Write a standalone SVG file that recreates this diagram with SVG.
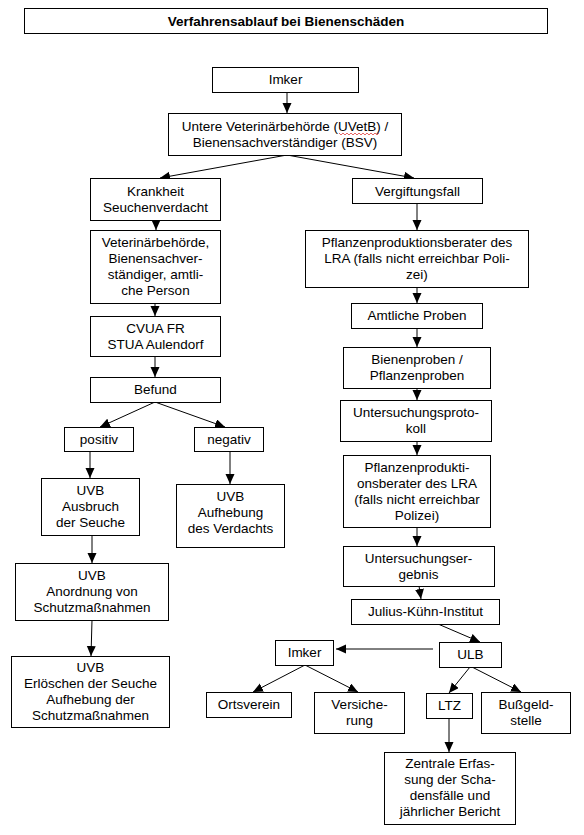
<svg xmlns="http://www.w3.org/2000/svg" width="584" height="835" viewBox="0 0 584 835">
<defs>
<marker id="ah" markerUnits="userSpaceOnUse" markerWidth="10" markerHeight="10" refX="10" refY="4.5" orient="auto">
<path d="M0,0 L10,4.5 L0,9 z" fill="#000"/>
</marker>
<style>
rect{fill:#fff;stroke:#000;stroke-width:1}
text{font-family:"Liberation Sans",Arial,sans-serif;font-size:13.5px;fill:#000;text-anchor:middle}
.t{font-weight:bold}
#connectors line{stroke:#000;stroke-width:1;marker-end:url(#ah)}
</style>
</defs>
<rect width="584" height="835" style="fill:#fff;stroke:none"/>

<g id="title"><rect x="24.5" y="8.5" width="523" height="25"/><text class="t" x="286" y="26">Verfahrensablauf bei Bienenschäden</text></g>

<g id="connectors">
<line x1="287" y1="92" x2="287" y2="113"/>
<line x1="287" y1="155" x2="160" y2="178"/>
<line x1="287" y1="155" x2="414" y2="178"/>
<line x1="156" y1="220" x2="156" y2="230"/>
<line x1="155" y1="303" x2="155" y2="316"/>
<line x1="155" y1="356" x2="155" y2="377"/>
<line x1="155" y1="402" x2="100" y2="427"/>
<line x1="155" y1="402" x2="225" y2="427"/>
<line x1="90" y1="452" x2="90" y2="478"/>
<line x1="230" y1="452" x2="230" y2="484"/>
<line x1="92" y1="535" x2="92" y2="563"/>
<line x1="92" y1="620" x2="91" y2="656"/>
<line x1="417" y1="203" x2="417" y2="230"/>
<line x1="417" y1="287" x2="417" y2="303"/>
<line x1="417" y1="328" x2="417" y2="347"/>
<line x1="417" y1="388" x2="417" y2="400"/>
<line x1="417" y1="441" x2="417" y2="455"/>
<line x1="417" y1="527" x2="417" y2="546"/>
<line x1="419" y1="586" x2="421" y2="599"/>
<line x1="438" y1="624" x2="480" y2="642"/>
<line x1="433" y1="649" x2="336" y2="649"/>
<line x1="305" y1="665" x2="253" y2="692"/>
<line x1="305" y1="665" x2="358" y2="692"/>
<line x1="470" y1="667" x2="449" y2="693"/>
<line x1="472" y1="667" x2="521" y2="692"/>
<line x1="449" y1="718" x2="449" y2="752"/>
</g>

<g id="imker"><rect x="212.5" y="67.5" width="146" height="25"/><text x="285.5" y="84">Imker</text></g>
<g id="uvetb"><rect x="168.5" y="113.5" width="233" height="42"/><text x="285" y="131">Untere Veterinärbehörde (UVetB) /</text><text x="285" y="147">Bienensachverständiger (BSV)</text>
<polyline points="339,133 341,135 343,133 345,135 347,133 349,135 351,133 353,135 355,133 357,135 359,133 361,135 363,133 365,135 367,133 369,135 371,133 373,135 375,133 377,135 379,133" fill="none" stroke="#e04040" stroke-width="0.8"/></g>
<g id="krankheit"><rect x="90.5" y="178.5" width="130" height="42"/><text x="155.5" y="195.5">Krankheit</text><text x="155.5" y="211.5">Seuchenverdacht</text></g>
<g id="vergiftungsfall"><rect x="352.5" y="178.5" width="130" height="25"/><text x="417.5" y="195.5">Vergiftungsfall</text></g>

<g id="veterinaer"><rect x="90.5" y="230.5" width="130" height="73"/><text x="155.5" y="247">Veterinärbehörde,</text><text x="155.5" y="263">Bienensachver-</text><text x="155.5" y="279">ständiger, amtli-</text><text x="155.5" y="295">che Person</text></g>
<g id="cvua"><rect x="90.5" y="316.5" width="130" height="40"/><text x="155.5" y="332.5">CVUA FR</text><text x="155.5" y="348.5">STUA Aulendorf</text></g>
<g id="befund"><rect x="90.5" y="377.5" width="130" height="25"/><text x="155.5" y="394">Befund</text></g>
<g id="positiv"><rect x="64.5" y="427.5" width="69" height="24"/><text x="99" y="444">positiv</text></g>
<g id="negativ"><rect x="194.5" y="427.5" width="69" height="24"/><text x="229" y="444">negativ</text></g>
<g id="ausbruch"><rect x="41.5" y="478.5" width="98" height="57"/><text x="90.5" y="495">UVB</text><text x="90.5" y="511">Ausbruch</text><text x="90.5" y="527">der Seuche</text></g>
<g id="aufhebung"><rect x="176.5" y="484.5" width="108" height="63"/><text x="230.5" y="501">UVB</text><text x="230.5" y="517">Aufhebung</text><text x="230.5" y="533">des Verdachts</text></g>
<g id="anordnung"><rect x="15.5" y="563.5" width="153" height="57"/><text x="92" y="580">UVB</text><text x="92" y="596">Anordnung von</text><text x="92" y="612">Schutzmaßnahmen</text></g>
<g id="erloeschen"><rect x="11.5" y="656.5" width="158" height="71"/><text x="90.5" y="672">UVB</text><text x="90.5" y="688">Erlöschen der Seuche</text><text x="90.5" y="704">Aufhebung der</text><text x="90.5" y="720">Schutzmaßnahmen</text></g>

<g id="pflanzenberater"><rect x="305.5" y="230.5" width="223" height="57"/><text x="417" y="247">Pflanzenproduktionsberater des</text><text x="417" y="263">LRA (falls nicht erreichbar Poli-</text><text x="417" y="279">zei)</text></g>
<g id="amtliche"><rect x="351.5" y="303.5" width="131" height="25"/><text x="417" y="320">Amtliche Proben</text></g>
<g id="bienenproben"><rect x="343.5" y="347.5" width="147" height="41"/><text x="417" y="364">Bienenproben /</text><text x="417" y="380">Pflanzenproben</text></g>
<g id="protokoll"><rect x="340.5" y="400.5" width="151" height="41"/><text x="416" y="417">Untersuchungsproto-</text><text x="416" y="433">koll</text></g>
<g id="pflanzenberater2"><rect x="343.5" y="455.5" width="147" height="72"/><text x="417" y="472">Pflanzenprodukti-</text><text x="417" y="488">onsberater des LRA</text><text x="417" y="504">(falls nicht erreichbar</text><text x="417" y="520">Polizei)</text></g>
<g id="ergebnis"><rect x="343.5" y="546.5" width="151" height="40"/><text x="418.5" y="563">Untersuchungser-</text><text x="418.5" y="579">gebnis</text></g>
<g id="julius"><rect x="351.5" y="599.5" width="148" height="25"/><text x="425.5" y="616">Julius-Kühn-Institut</text></g>
<g id="imker2"><rect x="275.5" y="640.5" width="58" height="25"/><text x="304.5" y="657">Imker</text></g>
<g id="ulb"><rect x="439.5" y="642.5" width="62" height="25"/><text x="470.5" y="659">ULB</text></g>
<g id="ortsverein"><rect x="206.5" y="692.5" width="85" height="25"/><text x="249" y="709">Ortsverein</text></g>
<g id="versicherung"><rect x="314.5" y="692.5" width="90" height="41"/><text x="359.5" y="709">Versiche-</text><text x="359.5" y="725">rung</text></g>
<g id="ltz"><rect x="426.5" y="693.5" width="46" height="25"/><text x="449.5" y="710">LTZ</text></g>
<g id="bussgeld"><rect x="481.5" y="692.5" width="89" height="41"/><text x="526" y="709">Bußgeld-</text><text x="526" y="725">stelle</text></g>
<g id="zentrale"><rect x="384.5" y="752.5" width="131" height="72"/><text x="450" y="768">Zentrale Erfas-</text><text x="450" y="784">sung der Scha-</text><text x="450" y="800">densfälle und</text><text x="450" y="816">jährlicher Bericht</text></g>
</svg>
